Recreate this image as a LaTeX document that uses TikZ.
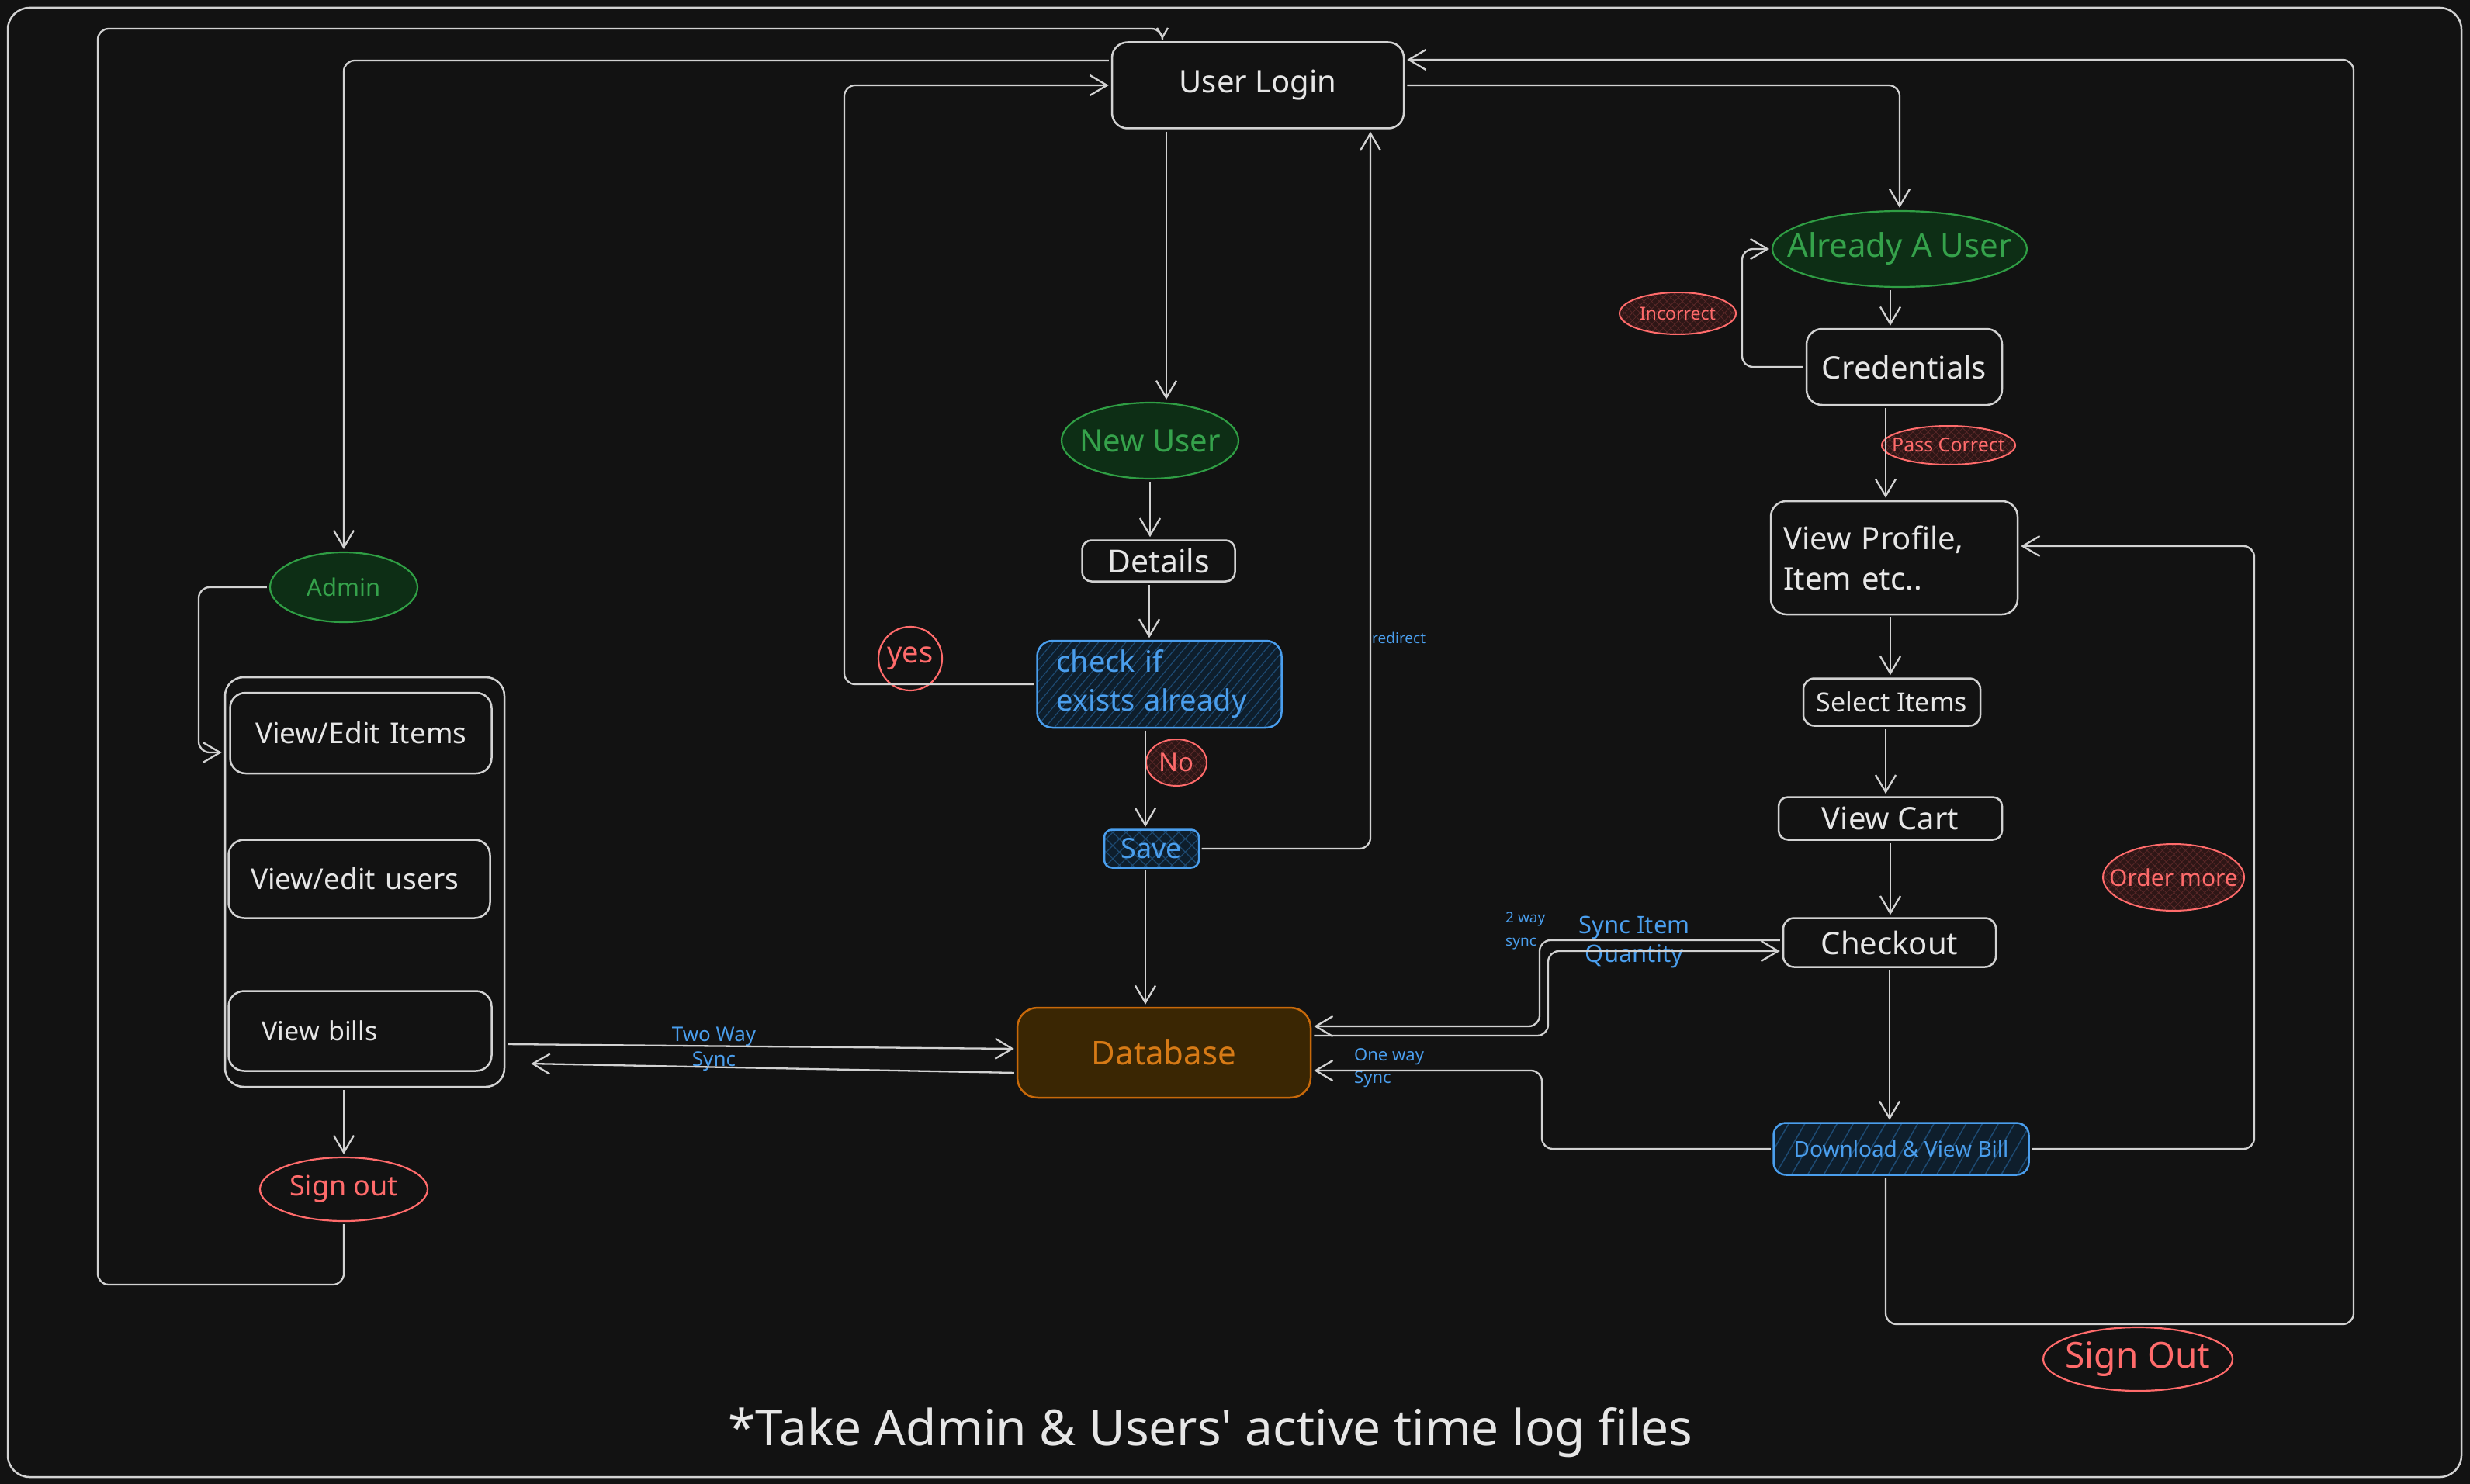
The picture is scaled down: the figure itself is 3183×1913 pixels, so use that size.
\documentclass[tikz,border=0pt]{standalone}
\usepackage{fontspec}
\setmainfont{Noto Sans}
\newfontfamily\titlefont{Noto Sans}[Ligatures=TeXOff]
\usetikzlibrary{shapes.geometric,arrows.meta,patterns.meta,calc}
\definecolor{bg}{HTML}{121212}
\definecolor{linec}{HTML}{D2D2D2}
\definecolor{txt}{HTML}{E6E6E6}
\definecolor{gstroke}{HTML}{2F9E44}
\definecolor{gfill}{HTML}{0D2E15}
\definecolor{gtext}{HTML}{35A24B}
\definecolor{rstroke}{HTML}{FF6B6B}
\definecolor{rfill}{HTML}{2E1616}
\definecolor{rhatch}{HTML}{5A2828}
\definecolor{bstroke}{HTML}{4A9EED}
\definecolor{bfill}{HTML}{0E1E2C}
\definecolor{bhatch}{HTML}{1D4A72}
\definecolor{ostroke}{HTML}{C8690A}
\definecolor{ofill}{HTML}{3A2603}
\definecolor{otext}{HTML}{D67A16}
\newcommand\fsz[2]{\fontsize{#1}{#2}\selectfont}
\hbadness=10000 \hfuzz=200pt
\begin{document}
\begin{tikzpicture}[x=1pt,y=-1pt,
  conn/.style={draw=linec, line width=2.3pt, rounded corners=14pt, shorten >=3pt, shorten <=3pt},
  arr/.style={-{Straight Barb[length=22pt,width=26pt]}},
  arrs/.style={-{Straight Barb[length=12pt,width=14pt]}},
  wbox/.style={draw=linec, line width=2.5pt, rounded corners=20pt, text=txt, inner sep=0pt},
  gell/.style={ellipse, draw=gstroke, line width=2.2pt, fill=gfill, text=gtext, inner sep=0pt},
  rell/.style={ellipse, draw=rstroke, line width=2pt, preaction={fill=rfill}, pattern={Hatch[angle=45,distance=7pt,line width=0.8pt]}, pattern color=rhatch, text=rstroke, inner sep=0pt},
  rline/.style={ellipse, draw=rstroke, line width=2.2pt, text=rstroke, inner sep=0pt},
  bbox/.style={draw=bstroke, line width=2.5pt, rounded corners=20pt, preaction={fill=bfill}, pattern={Lines[angle=50,distance=9pt,line width=1.2pt]}, pattern color=bhatch, text=bstroke, inner sep=0pt},
  lbl/.style={text=bstroke, inner sep=0pt}]
\path[use as bounding box, fill=bg] (0,0) rectangle (3183,1913);
\draw[linec, line width=2.5pt, rounded corners=28pt] (10,10) rectangle (3172,1904);

% ---------- centre column
\node[wbox, minimum width=376pt, minimum height=111pt, font=\fsz{40}{48}] (login) at (1621,110) {User Login};
\node[gell, inner xsep=-22pt, minimum width=228pt, minimum height=98pt, font=\fsz{40}{48}] (newuser) at (1482,568) {New User};
\node[wbox, rounded corners=12pt, minimum width=197pt, minimum height=53pt, font=\fsz{41}{48}] (details) at (1493,723) {Details};
\node[bbox, minimum width=315pt, minimum height=112pt, text width=265pt, align=left, font=\fsz{38}{50}] (check) at (1494,882) {check if\\exists already};
\node[rline, circle, minimum size=82pt, font=\fsz{38}{44}] (yes) at (1173,849) {yes};
\node[rell, minimum width=78pt, minimum height=60pt, font=\fsz{33}{38}] (no) at (1516,983) {No};
\node[draw=bstroke, line width=2.5pt, rounded corners=10pt, preaction={fill=bfill}, pattern={Hatch[angle=45,distance=12pt,line width=1.2pt]}, pattern color=bhatch, text=bstroke, inner sep=0pt, minimum width=122pt, minimum height=49pt, font=\fsz{36}{40}] (save) at (1484,1094) {Save};
\node[draw=ostroke, line width=2.5pt, rounded corners=26pt, fill=ofill, text=otext, inner sep=0pt, minimum width=378pt, minimum height=116pt, font=\fsz{42}{50}] (db) at (1500,1357) {Database};

% ---------- admin column
\node[gell, minimum width=190pt, minimum height=90pt, font=\fsz{31}{36}] (admin) at (443,757) {Admin};
\node[wbox, rounded corners=24pt, minimum width=360pt, minimum height=528pt] (cont) at (470,1137) {};
\node[wbox, minimum width=337pt, minimum height=104pt, text width=272pt, align=left, font=\fsz{37}{44}] (vei) at (465,945) {\mbox{View/Edit Items}};
\node[wbox, minimum width=337pt, minimum height=101pt, text width=280pt, align=left, font=\fsz{37}{44}] (veu) at (463,1133) {\mbox{\raisebox{-12pt}{View/edit users}}};
\node[wbox, minimum width=339pt, minimum height=103pt, text width=253pt, align=left, font=\fsz{34}{40}] (vb) at (464,1329) {\raisebox{-12pt}{View bills}};
\node[rline, inner xsep=-6pt, minimum width=216pt, minimum height=82pt, font=\fsz{36}{42}] (signoutL) at (443,1533) {Sign out};

% ---------- user column
\node[gell, inner xsep=-45pt, minimum width=328pt, minimum height=98pt, font=\fsz{42}{50}] (already) at (2448,321) {Already A User};
\node[wbox, minimum width=252pt, minimum height=98pt, font=\fsz{40}{48}] (cred) at (2454,473) {Credentials};
\node[rell, inner xsep=-6pt, minimum width=150pt, minimum height=54pt, font=\fsz{23}{28}] (incorrect) at (2162,404) {Incorrect};
\node[rell, inner xsep=-22pt, minimum width=172pt, minimum height=50pt, font=\fsz{25}{30}] (passc) at (2511,574) {Pass Correct};
\node[wbox, minimum width=318pt, minimum height=146pt, text width=286pt, align=left, font=\fsz{40}{52}] (vp) at (2441,719) {View Profile,\\Item etc..};
\node[wbox, rounded corners=14pt, minimum width=228pt, minimum height=61pt, font=\fsz{34}{40}] (sel) at (2438,905) {Select Items};
\node[wbox, rounded corners=12pt, minimum width=288pt, minimum height=55pt, font=\fsz{40}{46}] (cart) at (2436,1055) {View Cart};
\node[wbox, rounded corners=14pt, minimum width=274pt, minimum height=63pt, font=\fsz{40}{46}] (checkout) at (2435,1215) {Checkout};
\node[bbox, rounded corners=16pt, pattern={Lines[angle=60,distance=18pt,line width=1.5pt]}, minimum width=329pt, minimum height=67pt, font=\fsz{28}{34}] (download) at (2450,1481) {Download \& View Bill};
\node[rell, inner xsep=-28pt, minimum width=182pt, minimum height=86pt, font=\fsz{30}{36}] (order) at (2801,1131) {Order more};
\node[rline, inner xsep=-20pt, minimum width=244pt, minimum height=82pt, font=\fsz{46}{52}] (signoutR) at (2755,1752) {Sign Out};

% ---------- labels
\node[lbl, align=center, font=\fsz{26}{32}] (twoway) at (920,1352) {Two Way\\Sync};
\node[lbl, anchor=west, font=\fsz{19}{24}] (redirect) at (1768,822) {redirect};
\node[lbl, anchor=west, align=left, font=\fsz{19}{30}] (twoway2) at (1940,1200) {2 way\\sync};
\node[lbl, align=center, font=\fsz{31}{37}] (syncitem) at (2106,1214) {Sync Item\\Quantity};
\node[lbl, anchor=west, align=left, font=\fsz{22}{29}] (oneway) at (1745,1377) {One way\\Sync};
\node[text=txt, inner sep=0pt, font={\titlefont\fsz{64}{74}}] (title) at (1560,1847) {*Take Admin \& Users' active time log files};

% ---------- connectors
\draw[conn, arr] ([yshift=32pt]login.west) -| (admin.north);
\draw[conn, arrs] (signoutL.south) |- (126,1656) |- (1498,37) -- ([xshift=-123pt]login.north);
\draw[conn, arr] (check.west) -| (1088,110) -- (login.west);
\draw[conn, arr] ([xshift=-118pt]login.south) -- ([xshift=-118pt]login.south |- newuser.north);
\draw[conn, arr] (newuser.south) -- (newuser.south |- details.north);
\draw[conn, arr] ([xshift=-12pt]details.south) -- ([xshift=-12pt]details.south |- check.north);
\draw[conn, arr] ([xshift=-18pt]check.south) -- ([xshift=-18pt]check.south |- save.north);
\draw[conn, arr] ([xshift=-8pt]save.south) -- ([xshift=-8pt]save.south |- db.north);
\draw[conn, arr] (save.east) -| ([xshift=145pt]login.south);
\draw[conn, arr] (login.east) -| (already.north);
\draw[conn, arr] ([xshift=-20pt]download.south) |- (3033,1707) |- ([yshift=33pt]login.east);
\draw[conn, arr] ([xshift=-12pt]already.south) -- ([xshift=-12pt]already.south |- cred.north);
\draw[conn, arr] (cred.west) -| (2245,321) -- (already.west);
\draw[conn, arr] ([xshift=-24pt]cred.south) -- ([xshift=-24pt]cred.south |- vp.north);
\draw[conn, arr] ([xshift=-5pt]vp.south) -- ([xshift=-5pt]vp.south |- sel.north);
\draw[conn, arr] ([xshift=-8pt]sel.south) -- ([xshift=-8pt]sel.south |- cart.north);
\draw[conn, arr] (cart.south) -- (cart.south |- checkout.north);
\draw[conn, arr] (checkout.south) -- (checkout.south |- download.north);
\draw[conn, arr] (download.east) -| (2905,704) -- ([yshift=15pt]vp.east);
\draw[conn, arr] ([yshift=3pt]checkout.west) -| (1984,1323) -- ([yshift=34pt]db.east);
\draw[conn, arr] ([yshift=22pt]db.east) -| (1995,1226) -- ([yshift=-11pt]checkout.west);
\draw[conn, arr] (download.west) -| (1987,1380) -- ([yshift=-23pt]db.east);
\draw[conn, arr] ([yshift=-209pt]cont.east) -- ([yshift=5pt]db.west);
\draw[conn, arr] ([yshift=-26pt]db.west) -- ([xshift=30pt,yshift=-234pt]cont.east);
\draw[conn, arr] (admin.west) -| (256,970) -- ([yshift=167pt]cont.west);
\draw[conn, arr] (signoutL.north |- cont.south) -- (signoutL.north);
\end{tikzpicture}
\end{document}
